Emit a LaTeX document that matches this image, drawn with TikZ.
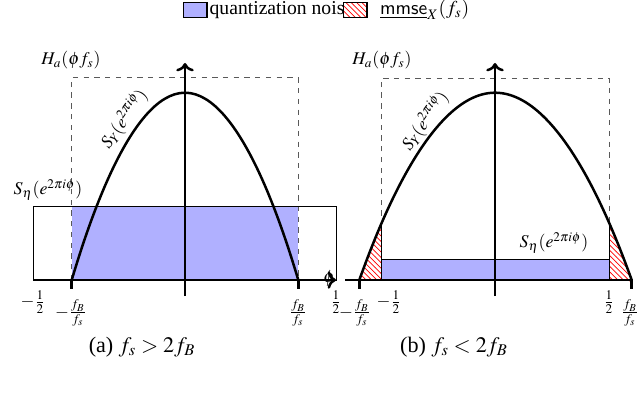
\documentclass[tikz,border=0pt]{standalone}
\usepackage{mathptmx}
\usepackage{fontspec}
\setmainfont{Liberation Serif}
\usetikzlibrary{
  patterns, % Schraffur fuer Aliasing
  arrows.meta % Pfeilspitzen
}
\definecolor{noiseblue}{RGB}{176,176,255}

\begin{document}
\begin{tikzpicture}[
    x=0.56pt, y=-0.56pt, % 1 Einheit = 1 Pixel der Vorlage
    >=To, % Pfeilspitze
    axis/.style={line width=1.4pt}, % Achsen
    curve/.style={line width=1.4pt}, % S_Y
    band/.style={dashed, gray!70!black, thin}, % H_a
    noise/.style={fill=noiseblue}, % Quantisierungsrauschen
    alias/.style={pattern=north west lines, pattern color=red}, % mmse
    lbl/.style={inner sep=1pt},
    legtxt/.style={inner sep=1pt, font=\fontsize{11}{13}\selectfont},
    caption/.style={font=\fontsize{12.4}{14}\selectfont},
  ]
  \useasboundingbox (0,0) rectangle (639,396);

  % Legende
  \node[draw, line width=1pt, noise, minimum width=13pt, minimum height=8.5pt, inner sep=0pt] (legnoise) at (195,10) {};
  \node[legtxt, right] (legnoisetxt) at (legnoise.east) {quantization noise};
  \node[draw, line width=1pt, alias, preaction={fill=white}, minimum width=13pt, minimum height=8.5pt, inner sep=0pt] (legalias) at (355,10) {};
  \node[legtxt, right] (legmmse) at (378,10) {$\underline{\mathsf{mmse}}_X(f_s)$};

  % (a) Koordinaten
  \coordinate (aO) at (185,280);
  \coordinate (aL) at (71.7,280);
  \coordinate (aR) at (298.3,280);
  \coordinate (aTop) at (185,92.7);
  \coordinate (aW) at (33.3,280);
  \coordinate (aE) at (336,280);

  % (a) Flaechen
  \draw[band] (aL) |- (298.3,77.7) -- (aR);
  \fill[noise] (71.7,206) rectangle (aR);
  \draw[thin] (33.3,206) rectangle (aE);
  \draw[curve] (aL) parabola bend (aTop) (aR);

  % (a) Achsen
  \draw[axis, ->] (aW) -- (aE);
  \draw[axis, ->] (185,296) -- (185,63);
  \foreach \x in {71.7, 298.3}
  \draw[axis] (\x,280) -- (\x,289);

  % (a) Beschriftung
  \node[lbl] (aphi) at (329,279) {$\phi$};
  \node[lbl] (aH) at (71,60) {$H_a(\phi f_s)$};
  \node[lbl] (aSeta) at (48,190) {$S_\eta(e^{2\pi i\phi})$};
  \node[lbl, rotate=55] (aSY) at (124,119) {$S_Y(e^{2\pi i\phi})$};
  \node[lbl] (amhalf) at (33,302) {$-\frac{1}{2}$};
  \node[lbl] (amfb) at (71,313) {$-\frac{f_B}{f_s}$};
  \node[lbl] (afb) at (298,313) {$\frac{f_B}{f_s}$};
  \node[lbl] (ahalf) at (336,302) {$\frac{1}{2}$};
  \node[caption] (acap) at (142,347) {(a) $f_s > 2f_B$};

  % (b) Koordinaten
  \coordinate (bO) at (495,280);
  \coordinate (bL) at (359.3,280);
  \coordinate (bR) at (631.7,280);
  \coordinate (bTop) at (495,92.7);
  \coordinate (bW) at (345,280);
  \coordinate (bE) at (633,280);

  % (b) Flaechen
  \draw[band] (381.7,280) |- (609,78) -- (609,280);
  \fill[alias] plot[domain=359.3:381.7, samples=20] (\x, {280-187.3*(1-((\x-495)/136.2)^2)}) -- (381.7,280) -- cycle;
  \fill[alias] plot[domain=609:631.7, samples=20] (\x, {280-187.3*(1-((\x-495)/136.2)^2)}) -- (609,280) -- cycle;
  \draw[thin] (381.7,222.3) -- (381.7,280);
  \draw[thin] (609,222.3) -- (609,280);
  \draw[noise, thin] (381.7,259.3) rectangle (609,280);
  \draw[curve] (bL) parabola bend (bTop) (bR);

  % (b) Achsen
  \draw[axis] (bW) -- (bE);
  \draw[axis, ->] (495,296) -- (495,63);
  \foreach \x in {359.3, 631.7}
  \draw[axis] (\x,280) -- (\x,289);

  % (b) Beschriftung
  \node[lbl] (bH) at (382,60) {$H_a(\phi f_s)$};
  \node[lbl] (bSeta) at (554,243) {$S_\eta(e^{2\pi i\phi})$};
  \node[lbl, rotate=55] (bSY) at (425,121) {$S_Y(e^{2\pi i\phi})$};
  \node[lbl] (bmfb) at (355,313) {$-\frac{f_B}{f_s}$};
  \node[lbl] (bmhalf) at (389,302) {$-\frac{1}{2}$};
  \node[lbl] (bhalf) at (609,302) {$\frac{1}{2}$};
  \node[lbl] (bfb) at (630,313) {$\frac{f_B}{f_s}$};
  \node[caption] (bcap) at (454,347) {(b) $f_s < 2f_B$};

\end{tikzpicture}
\end{document}
